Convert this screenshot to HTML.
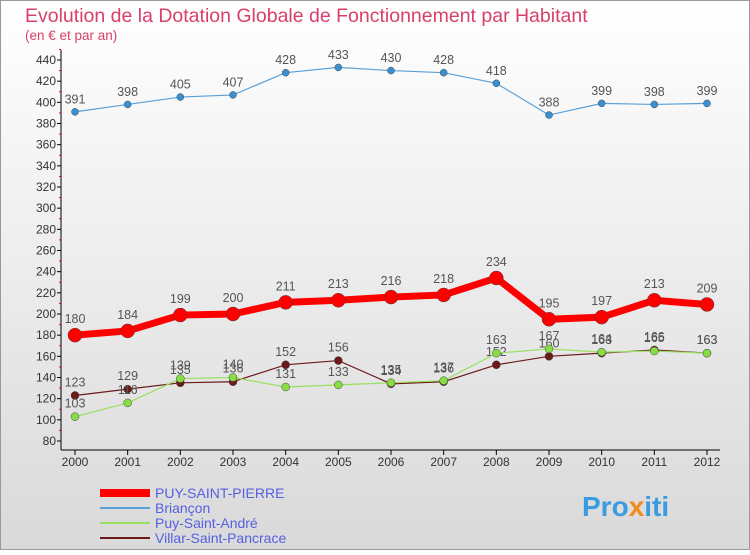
<!DOCTYPE html>
<html><head><meta charset="utf-8"><style>
body{margin:0;width:750px;height:550px;overflow:hidden;font-family:"Liberation Sans",sans-serif}
</style></head><body>
<svg width="750" height="550" xmlns="http://www.w3.org/2000/svg">
<defs><linearGradient id="bg" x1="0" y1="0" x2="0" y2="1"><stop offset="0" stop-color="#ffffff"/><stop offset="1" stop-color="#d9d9d9"/></linearGradient></defs>
<rect x="0.5" y="0.5" width="749" height="549" fill="url(#bg)" stroke="#999"/>
<text x="25" y="22" font-size="19.5" fill="#d8406a">Evolution de la Dotation Globale de Fonctionnement par Habitant</text>
<text x="25" y="40" font-size="13.5" fill="#d8406a">(en € et par an)</text>
<g id="axes"></g><g id="series"></g><g id="legend"></g>
<text x="582" y="516" font-size="28" font-weight="bold" fill="#3a9be0">Pro<tspan fill="#f08a1c">x</tspan>iti</text>
</svg>
<script>
const years=[2000,2001,2002,2003,2004,2005,2006,2007,2008,2009,2010,2011,2012];
const yTicks=[80,100,120,140,160,180,200,220,240,260,280,300,320,340,360,380,400,420,440];
const puy=[180,184,199,200,211,213,216,218,234,195,197,213,209];
const briancon=[391,398,405,407,428,433,430,428,418,388,399,398,399];
const andre=[103,116,139,140,131,133,135,137,163,167,164,165,163];
const villar=[123,129,135,136,152,156,134,136,152,160,163,166,163];
const NS="http://www.w3.org/2000/svg";
const X=i=>75+i*(707-75)/12, Y=v=>441-(v-80)*(441-60)/360;
function mk(p,t,a){const e=document.createElementNS(NS,t);for(const k in a)e.setAttribute(k,a[k]);p.appendChild(e);return e;}
const ax=document.getElementById('axes');
const yl=mk(ax,'line',{x1:61,y1:50,x2:61,y2:450,stroke:'#000'});


const xl=mk(ax,'line',{x1:61,y1:450,x2:720,y2:450,stroke:'#000'});


yTicks.forEach(v=>{
 mk(ax,'line',{x1:57,y1:Y(v),x2:61,y2:Y(v),stroke:'#000'});
 mk(ax,'line',{x1:59,y1:Y(v+10),x2:61,y2:Y(v+10),stroke:'#e00'});
 const t=mk(ax,'text',{x:56,y:Y(v)+4,'font-size':12,'text-anchor':'end',fill:'#333'});t.textContent=v;
 
 
});
years.forEach((y,i)=>{
 mk(ax,'line',{x1:X(i),y1:450,x2:X(i),y2:455,stroke:'#000'});
 const t=mk(ax,'text',{x:X(i),y:466,'font-size':12,'text-anchor':'middle',fill:'#333'});t.textContent=y;
 
 
});
const sg=document.getElementById('series');
function series(data,color,w,r,name,labels,dot){
 const g=mk(sg,'g',{});
 
 
 mk(g,'polyline',{points:data.map((v,i)=>X(i)+','+Y(v)).join(' '),fill:'none',stroke:color,'stroke-width':w});
 data.forEach((v,i)=>{
  const c=mk(g,'circle',{cx:X(i),cy:Y(v),r:r,fill:dot,stroke:'#444','stroke-width':0.5});
  
  
  if(labels){const t=mk(g,'text',{x:X(i),y:Y(v)-(r+5),'font-size':12.5,'text-anchor':'middle',fill:'#555'});t.textContent=v;
  
  }
 });
}
series(villar,'#6b1a1a',1.2,4,'villar-series',true,'#6b1a1a');
series(andre,'#99e060',1.2,4,'andre-series',true,'#88dd44');
series(briancon,'#5aa0d8',1.2,3.5,'briancon-series',true,'#3a8fd0');
series(puy,'#ff0000',7,7,'puy-series',true,'#ff0000');
const lg=document.getElementById('legend');
[['PUY-SAINT-PIERRE','#ff0000',8],['Briançon','#5aa0d8',2],['Puy-Saint-André','#99e060',2],['Villar-Saint-Pancrace','#6b1a1a',2]].forEach((d,i)=>{
 const y=493+i*15;
 const g=mk(lg,'g',{});
 
 
 mk(g,'line',{x1:100,y1:y,x2:150,y2:y,stroke:d[1],'stroke-width':d[2]});
 const t=mk(g,'text',{x:155,y:y+5,'font-size':14,fill:'#5560e0'});t.textContent=d[0];
});
</script>
</body></html>
